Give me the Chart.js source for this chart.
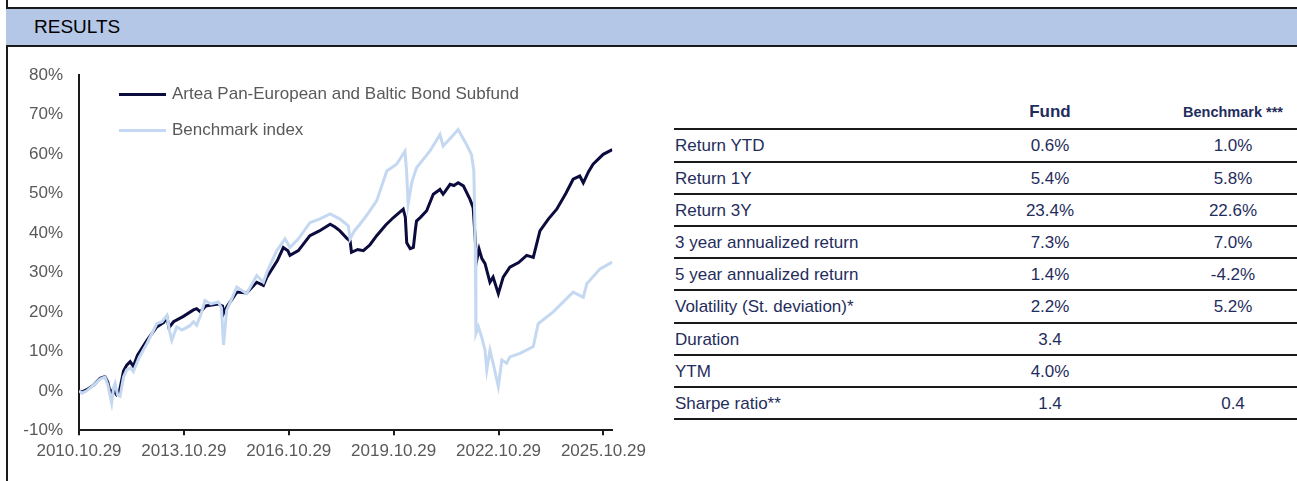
<!DOCTYPE html>
<html>
<head>
<meta charset="utf-8">
<script src="https://cdn.jsdelivr.net/npm/chart.js@4.4.1/dist/chart.umd.min.js"></script>
<style>
html,body{margin:0;padding:0;background:#fff;}
body{width:1297px;height:481px;overflow:hidden;position:relative;font-family:"Liberation Sans",Arial,Helvetica,sans-serif;}
#leftrule{position:absolute;left:6px;top:0;width:2px;height:481px;background:#1a1a1a;}
#band{position:absolute;left:6px;top:7px;width:1291px;height:36px;background:#b4c7e7;border-top:2px solid #1a1a1a;border-bottom:2px solid #1a1a1a;}
#band span{position:absolute;left:28px;top:0;line-height:36px;font-size:19px;color:#000;}
#chartbox{position:absolute;left:0;top:0;width:660px;height:481px;}
.legline{position:absolute;left:119px;width:47px;height:3px;}
.legtext{position:absolute;left:172px;font-size:17px;line-height:20px;color:#595959;white-space:nowrap;}
#tbl{position:absolute;left:674px;top:0;width:623px;height:481px;color:#1f2d5c;}
.rline{position:absolute;left:0;width:623px;height:2px;background:#1a1a1a;}
.cell{position:absolute;font-size:17px;line-height:20px;white-space:nowrap;}
.num{width:140px;text-align:center;}
</style>
</head>
<body>
<div id="leftrule"></div>
<div id="band"><span>RESULTS</span></div>
<div id="chartbox"><canvas id="c"></canvas></div>
<div id="legend"></div>
<div id="tbl"></div>
<script>
// ---- data ----
const seriesNames = ['Artea Pan-European and Baltic Bond Subfund', 'Benchmark index'];
const seriesColors = ['#0b0b3d', '#c5d8f1'];

// decimal years
const fundDates = [2010.826,2010.90,2011.05,2011.25,2011.43,2011.57,2011.65,2011.72,2011.80,2011.90,2011.98,2012.10,2012.19,2012.29,2012.38,2012.50,2012.77,2013.05,2013.25,2013.34,2013.40,2013.53,2013.80,2014.10,2014.19,2014.30,2014.45,2014.80,2014.93,2014.96,2015.05,2015.34,2015.62,2015.91,2016.10,2016.20,2016.50,2016.67,2016.80,2016.86,2017.10,2017.43,2017.70,2018.01,2018.15,2018.29,2018.50,2018.58,2018.62,2018.80,2018.96,2019.15,2019.34,2019.60,2019.82,2020.10,2020.16,2020.20,2020.30,2020.39,2020.45,2020.48,2020.60,2020.77,2020.96,2021.15,2021.24,2021.30,2021.44,2021.55,2021.67,2021.82,2022.01,2022.10,2022.20,2022.27,2022.35,2022.44,2022.58,2022.67,2022.82,2022.96,2023.15,2023.40,2023.63,2023.82,2024.01,2024.25,2024.49,2024.75,2024.96,2025.15,2025.25,2025.40,2025.53,2025.82,2026.08];
const fundValues = [0.0,-0.3,0.3,1.5,3.2,3.6,2.2,-0.6,0.3,-1.0,-0.3,5.0,6.5,7.4,6.2,9.0,12.8,16.2,17.3,18.7,16.0,17.5,18.8,20.5,20.8,20.0,21.5,22.0,21.5,19.6,21.2,25.0,24.8,27.5,26.7,28.8,33.0,36.3,35.5,34.3,35.5,39.3,40.5,42.2,41.5,40.5,38.5,38.0,35.1,35.8,35.5,37.0,39.3,42.0,43.9,46.0,44.0,37.5,36.0,36.3,41.0,43.0,44.0,45.6,49.8,51.0,49.8,50.5,52.3,52.0,52.7,51.9,48.5,46.4,33.0,35.9,33.5,32.2,27.5,28.8,24.6,28.8,31.3,32.5,34.3,33.8,40.5,43.5,46.0,50.0,53.6,54.4,52.7,55.5,57.4,59.9,61.1];

const benchDates = [2010.826,2010.91,2011.05,2011.25,2011.43,2011.57,2011.65,2011.76,2011.82,2011.86,2011.93,2012.00,2012.10,2012.19,2012.30,2012.38,2012.55,2012.77,2013.05,2013.20,2013.34,2013.42,2013.48,2013.62,2013.77,2014.00,2014.10,2014.19,2014.30,2014.43,2014.60,2014.81,2014.90,2014.96,2015.05,2015.34,2015.62,2015.91,2016.10,2016.20,2016.48,2016.72,2016.86,2017.10,2017.43,2017.70,2018.01,2018.29,2018.53,2018.58,2018.70,2018.86,2019.10,2019.34,2019.63,2019.91,2020.15,2020.20,2020.24,2020.35,2020.48,2020.86,2021.15,2021.24,2021.45,2021.67,2021.91,2022.05,2022.12,2022.16,2022.18,2022.25,2022.34,2022.44,2022.49,2022.58,2022.67,2022.82,2022.92,2023.06,2023.15,2023.44,2023.82,2023.96,2024.39,2024.96,2025.25,2025.35,2025.73,2026.08];
const benchValues = [0.0,-0.6,0.0,1.5,3.0,3.5,1.5,-3.1,1.0,1.9,-1.0,-1.4,3.5,5.3,5.8,4.9,8.5,12.0,17.0,17.5,19.1,15.0,12.8,16.2,15.4,16.5,17.5,16.6,19.0,22.9,22.0,22.5,21.0,11.6,20.4,26.3,24.6,29.2,27.5,30.0,35.5,38.5,36.3,38.5,42.6,43.5,44.8,43.5,41.8,38.5,40.5,42.2,45.0,48.1,55.7,57.4,60.7,55.0,47.3,53.0,56.5,60.7,64.9,62.0,64.0,66.2,62.4,59.9,55.7,36.3,14.5,16.2,13.7,10.3,5.3,10.3,7.0,1.1,7.8,7.0,8.6,9.5,11.2,17.0,20.0,25.0,23.7,27.1,30.9,32.6];

const tickDates = [2010.826, 2013.826, 2016.826, 2019.826, 2022.826, 2025.826];
const tickLabels = ['2010.10.29', '2013.10.29', '2016.10.29', '2019.10.29', '2022.10.29', '2025.10.29'];
const yMin = -10, yMax = 80, yStep = 10;
const xMin = 2010.826, xMax = 2026.08;

// results table
const colHeaders = ['Fund', 'Benchmark ***'];
const rowLabels = ['Return YTD', 'Return 1Y', 'Return 3Y', '3 year annualized return', '5 year annualized return', 'Volatility (St. deviation)*', 'Duration', 'YTM', 'Sharpe ratio**'];
const fundStats = ['0.6%', '5.4%', '23.4%', '7.3%', '1.4%', '2.2%', '3.4', '4.0%', '1.4'];
const benchStats = ['1.0%', '5.8%', '22.6%', '7.0%', '-4.2%', '5.2%', '', '', '0.4'];

// ---- chart ----
const axisColor = '#1a1a1a';
const labelColor = '#595959';
const font = {family: "'Liberation Sans', Arial, sans-serif", size: 17};

new Chart(document.getElementById('c'), {
  type: 'line',
  data: {
    datasets: [
      {label: seriesNames[0], data: fundDates.map((d, i) => ({x: d, y: fundValues[i]})),
       borderColor: seriesColors[0], backgroundColor: seriesColors[0], borderWidth: 3, pointRadius: 0, tension: 0, order: 1},
      {label: seriesNames[1], data: benchDates.map((d, i) => ({x: d, y: benchValues[i]})),
       borderColor: seriesColors[1], backgroundColor: seriesColors[1], borderWidth: 3, pointRadius: 0, tension: 0, order: 0}
    ]
  },
  options: {
    responsive: true, maintainAspectRatio: false, animation: false, devicePixelRatio: 1,
    layout: {padding: {left: 0, top: 75, right: 47.7, bottom: 0}},
    plugins: {legend: {display: false}, tooltip: {enabled: false}},
    scales: {
      x: {
        type: 'linear', min: xMin, max: xMax,
        afterBuildTicks: s => { s.ticks = tickDates.map(v => ({value: v})); },
        afterFit: s => { s.height = 50.7; },
        ticks: {autoSkip: false, maxRotation: 0, minRotation: 0, padding: 6, color: labelColor, font: font,
                callback: (v, i) => tickLabels[i]},
        grid: {display: true, drawOnChartArea: false, drawTicks: true, tickLength: 5, color: axisColor, lineWidth: 2},
        border: {display: true, color: axisColor, width: 2}
      },
      y: {
        min: yMin, max: yMax,
        afterFit: s => { s.width = 79; },
        ticks: {stepSize: yStep, padding: 16, color: labelColor, font: font, callback: v => v + '%'},
        grid: {display: true, drawOnChartArea: false, drawTicks: false},
        border: {display: true, color: axisColor, width: 2}
      }
    }
  }
});

// ---- legend (html) ----
const legend = document.getElementById('legend');
const legY = [94, 130];
seriesNames.forEach((name, i) => {
  const ln = document.createElement('div');
  ln.className = 'legline';
  ln.style.top = (legY[i] - 1.5) + 'px';
  ln.style.background = seriesColors[i];
  legend.appendChild(ln);
  const tx = document.createElement('div');
  tx.className = 'legtext';
  tx.style.top = (legY[i] - 10) + 'px';
  tx.textContent = name;
  legend.appendChild(tx);
});

// ---- table (html) ----
const tbl = document.getElementById('tbl');
const col1 = 1050 - 674, col2 = 1233 - 674;
const firstLine = 129.3, rowH = 32.2;
function addCell(text, left, top, cls, extra) {
  const d = document.createElement('div');
  d.className = 'cell ' + (cls || '');
  d.style.left = left + 'px';
  d.style.top = top + 'px';
  if (extra) Object.assign(d.style, extra);
  d.textContent = text;
  tbl.appendChild(d);
}
addCell(colHeaders[0], col1 - 70, 112 - 10, 'num', {fontWeight: 'bold'});
addCell(colHeaders[1], col2 - 70, 111.5 - 10, 'num', {fontWeight: 'bold', fontSize: '14.5px'});
for (let k = 0; k <= rowLabels.length; k++) {
  const l = document.createElement('div');
  l.className = 'rline';
  l.style.top = (firstLine + k * rowH - 1) + 'px';
  tbl.appendChild(l);
}
rowLabels.forEach((lab, i) => {
  const cy = firstLine + (i + 0.5) * rowH + 1;
  addCell(lab, 1, cy - 10);
  addCell(fundStats[i], col1 - 70, cy - 10, 'num');
  addCell(benchStats[i], col2 - 70, cy - 10, 'num');
});
</script>
</body>
</html>
